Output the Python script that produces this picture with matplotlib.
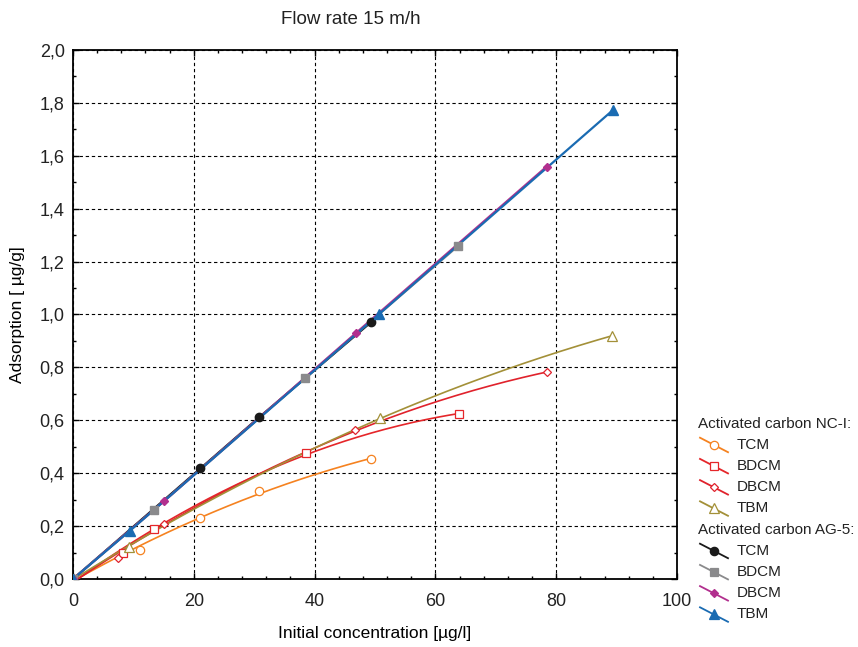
import numpy as np
import matplotlib.pyplot as plt
from matplotlib.lines import Line2D
from matplotlib.ticker import MultipleLocator, FuncFormatter

plt.rcParams['font.family'] = ['Liberation Sans', 'DejaVu Sans']
plt.rcParams['text.color'] = '#222222'

# activated carbon NC-I (open markers, fitted curves)
nc_tcm_x = [0, 11.1, 21.1, 30.8, 49.3]
nc_tcm_y = [0, 0.110, 0.232, 0.334, 0.452]
nc_bdcm_x = [0, 8.3, 13.4, 38.6, 63.9]
nc_bdcm_y = [0, 0.097, 0.190, 0.478, 0.623]
nc_dbcm_x = [0, 7.4, 15.0, 46.7, 78.4]
nc_dbcm_y = [0, 0.078, 0.208, 0.563, 0.781]
nc_tbm_x = [0, 9.2, 50.8, 89.2]
nc_tbm_y = [0, 0.122, 0.607, 0.919]

# activated carbon AG-5 (filled markers, straight lines)
ag_tcm_x = [0, 21.1, 30.8, 49.3]
ag_tcm_y = [0, 0.418, 0.611, 0.970]
ag_bdcm_x = [0, 13.4, 38.4, 63.8]
ag_bdcm_y = [0, 0.261, 0.760, 1.260]
ag_dbcm_x = [0, 15.1, 46.8, 78.4]
ag_dbcm_y = [0, 0.295, 0.929, 1.559]
ag_tbm_x = [0, 9.4, 50.7, 89.4]
ag_tbm_y = [0, 0.182, 1.002, 1.773]

W, H = 858, 647
fig = plt.figure(figsize=(W / 100, H / 100), dpi=100)
ax = fig.add_axes([73 / W, 1 - 579 / H, 604 / W, 529 / H])

nc_series = [
    ('TCM', nc_tcm_x, nc_tcm_y, '#F58220', 'o', 6),
    ('BDCM', nc_bdcm_x, nc_bdcm_y, '#E5262A', 's', 6),
    ('DBCM', nc_dbcm_x, nc_dbcm_y, '#E0222C', 'D', 4.5),
    ('TBM', nc_tbm_x, nc_tbm_y, '#A39038', '^', 6.5),
]
ag_series = [
    ('TCM', ag_tcm_x, ag_tcm_y, '#1a1a1a', 'o', 6),
    ('BDCM', ag_bdcm_x, ag_bdcm_y, '#8A8A8C', 's', 6),
    ('DBCM', ag_dbcm_x, ag_dbcm_y, '#B22F8E', 'D', 4.5),
    ('TBM', ag_tbm_x, ag_tbm_y, '#1A6BB2', '^', 6.5),
]

# smooth curves for NC-I (quadratic least squares through the measured points)
for name, x, y, c, m, ms in nc_series:
    coef = np.polyfit(x, y, 2)
    xs = np.linspace(0, max(x), 200)
    ax.plot(xs, np.polyval(coef, xs), color=c, lw=1.2, zorder=3)
    ax.plot(x, y, ls='none', marker=m, ms=ms, mfc='white', mec=c, mew=0.9, zorder=5)

for name, x, y, c, m, ms in ag_series:
    ax.plot(x, y, color=c, lw=1.6, zorder=4)
    ax.plot(x, y, ls='none', marker=m, ms=ms, mfc=c, mec=c, zorder=6)

ax.set_xlim(0, 100)
ax.set_ylim(0, 2.0)
ax.xaxis.set_major_locator(MultipleLocator(20))
ax.xaxis.set_minor_locator(MultipleLocator(4))
ax.yaxis.set_major_locator(MultipleLocator(0.2))
ax.yaxis.set_minor_locator(MultipleLocator(0.1))
ax.yaxis.set_major_formatter(FuncFormatter(lambda v, p: f"{v:.1f}".replace('.', ',')))
ax.tick_params(which='both', direction='in', top=True, right=True, width=1.0,
               labelcolor='#222222')
ax.tick_params(which='major', length=4, labelsize=13)
ax.tick_params(axis='x', which='major', pad=10)
ax.tick_params(axis='y', which='major', pad=6)
ax.tick_params(which='minor', length=2.5)
ax.grid(True, which='major', color='black', ls=(0, (3, 2.5)), lw=0.8)
for sp in ax.spines.values():
    sp.set_linewidth(1.3)

ax.set_xlabel('Initial concentration [µg/l]', fontsize=12.5)
ax.xaxis.set_label_coords(0.5, -(626 - 579) / 529)
ax.set_ylabel('Adsorption [ µg/g]', fontsize=12.5)
ax.yaxis.set_label_coords((25 - 73) / 604, 0.5)

fig.text(351 / W, 1 - 20 / H, 'Flow rate 15 m/h', ha='center', va='center', fontsize=13.5)

# legend drawn by hand: header lines and diagonal handles
def fx(px):
    return px / W

def fy(py):
    return 1 - py / H

rows = [('Activated carbon NC-I:', None, False)]
rows += [(s[0], s, True) for s in nc_series]
rows += [('Activated carbon AG-5:', None, False)]
rows += [(s[0], s, False) for s in ag_series]

y0 = 423.5
step = 21.2
for i, (label, s, is_open) in enumerate(rows):
    yy = y0 + i * step
    if s is None:
        fig.text(fx(698), fy(yy), label, ha='left', va='center', fontsize=11)
        continue
    _, _, _, c, m, ms = s
    fig.add_artist(Line2D([fx(700), fx(728)], [fy(yy - 7), fy(yy + 7.5)],
                          transform=fig.transFigure, color=c, lw=1.3))
    fig.add_artist(Line2D([fx(714)], [fy(yy)], transform=fig.transFigure, ls='none',
                          marker=m, ms=ms, mec=c, mfc='white' if is_open else c, mew=0.9))
    fig.text(fx(737), fy(yy), label, ha='left', va='center', fontsize=11)

fig.savefig('out.png', dpi=100)
